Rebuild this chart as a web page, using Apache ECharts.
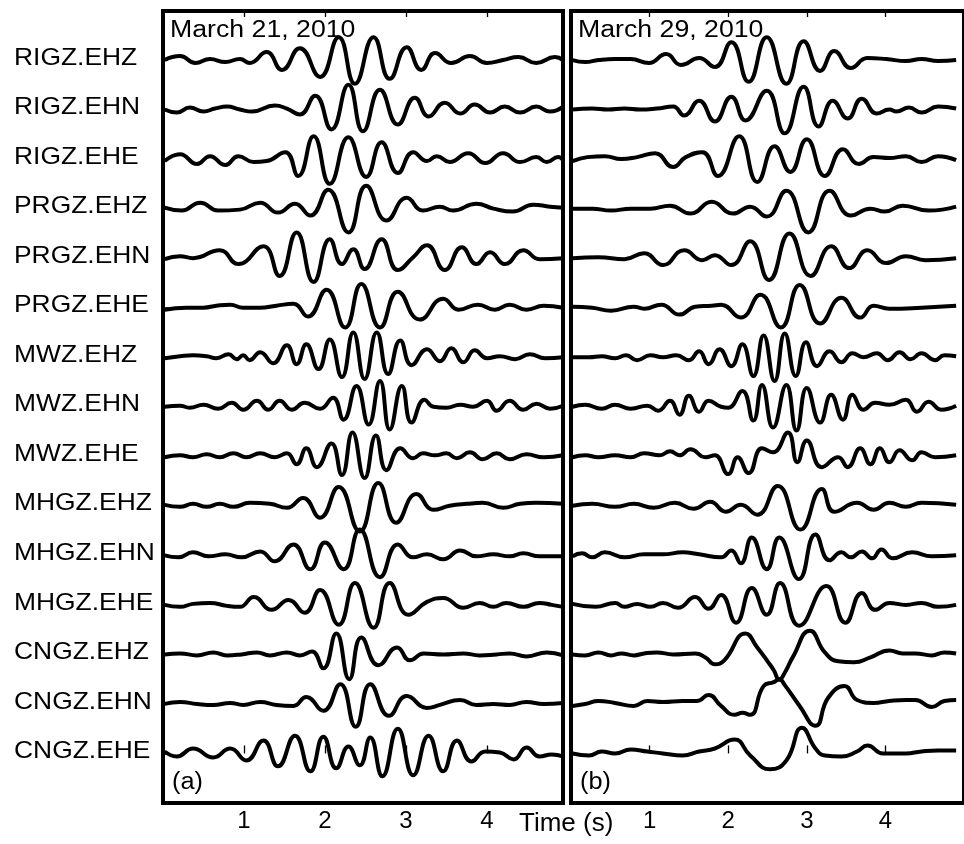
<!DOCTYPE html>
<html><head><meta charset="utf-8">
<script src="https://cdn.jsdelivr.net/npm/echarts@6/dist/echarts.min.js"></script>
<style>html,body{margin:0;padding:0;background:#fff}#c{width:964px;height:844px}</style>
</head><body><div id="c"></div>
<script>
const stations = ['RIGZ.EHZ','RIGZ.EHN','RIGZ.EHE','PRGZ.EHZ','PRGZ.EHN','PRGZ.EHE','MWZ.EHZ','MWZ.EHN','MWZ.EHE','MHGZ.EHZ','MHGZ.EHN','MHGZ.EHE','CNGZ.EHZ','CNGZ.EHN','CNGZ.EHE'];
const timeTicks = [1,2,3,4];
const panelTitles = ['March 21, 2010','March 29, 2010'];
const panelTags = ['(a)','(b)'];
const axisTitle = 'Time (s)';

// ---- March 21, 2010 : [time (s), amplitude] at read extrema ----
const m21_RIGZ_EHZ = [[0.02,0],[0.21,4],[0.40,-3],[0.58,1],[0.77,-2],[0.95,1],[1.07,-3],[1.28,8],[1.47,-10],[1.69,12],[1.94,-17],[2.17,23],[2.37,-24],[2.60,23],[2.80,-19],[3.01,13],[3.19,-10],[3.36,7],[3.56,-3],[3.79,4],[4.00,-3],[4.20,0],[4.39,3],[4.61,-3],[4.84,3],[4.94,0]];
const m21_RIGZ_EHN = [[0.02,0],[0.17,-3],[0.33,2],[0.50,-2],[0.64,1],[0.79,3],[0.95,0],[1.10,-2],[1.38,4],[1.53,1],[1.69,-5],[1.88,14],[2.08,-20],[2.29,25],[2.47,-22],[2.68,20],[2.90,-15],[3.11,12],[3.28,-7],[3.48,7],[3.67,-4],[3.85,5],[4.04,-3],[4.22,3],[4.41,-3],[4.61,3],[4.78,-2],[4.94,3]];
const m21_RIGZ_EHE = [[0.02,-2],[0.21,5],[0.42,-5],[0.58,3],[0.77,-6],[0.93,3],[1.12,-3],[1.28,-2],[1.51,7],[1.67,-17],[1.86,23],[2.06,-25],[2.29,22],[2.51,-18],[2.70,17],[2.90,-14],[3.09,7],[3.26,-2],[3.38,3],[3.54,-3],[3.77,6],[3.98,-4],[4.20,6],[4.41,-3],[4.61,2],[4.74,-3],[4.88,2],[4.94,-1]];
const m21_PRGZ_EHZ = [[0.02,1],[0.23,-2],[0.46,6],[0.68,-2],[0.95,-1],[1.20,6],[1.42,-4],[1.63,5],[1.82,-7],[2.04,19],[2.29,-24],[2.51,23],[2.76,-12],[3.01,11],[3.21,-2],[3.42,2],[3.58,-2],[3.87,5],[4.08,0],[4.32,-3],[4.57,4],[4.78,2],[4.94,1]];
const m21_PRGZ_EHN = [[0.02,-1],[0.21,2],[0.37,0],[0.70,8],[0.93,-6],[1.24,12],[1.44,-18],[1.65,26],[1.86,-24],[2.06,19],[2.21,-6],[2.35,9],[2.49,-11],[2.70,19],[2.90,-12],[3.09,1],[3.26,13],[3.48,-12],[3.69,11],[3.87,-6],[4.04,6],[4.22,-6],[4.45,8],[4.65,-1],[4.94,0]];
const m21_PRGZ_EHE = [[0.02,-2],[0.29,0],[0.50,0],[0.66,2],[0.83,3],[0.99,0],[1.20,0],[1.40,2],[1.61,4],[1.79,-9],[2.02,18],[2.25,-20],[2.45,24],[2.68,-20],[2.90,16],[3.17,-12],[3.46,9],[3.65,-2],[3.89,3],[4.10,-2],[4.28,3],[4.49,-2],[4.70,2],[4.94,0]];
const m21_MWZ_EHZ = [[0.02,-1],[0.21,1],[0.37,2],[0.54,1],[0.66,-1],[0.81,3],[0.91,-2],[0.99,2],[1.07,-3],[1.20,5],[1.36,-6],[1.53,12],[1.65,-7],[1.77,13],[1.92,-12],[2.06,18],[2.21,-20],[2.35,25],[2.49,-22],[2.64,25],[2.78,-17],[2.93,17],[3.07,-8],[3.26,8],[3.42,-4],[3.56,9],[3.71,-5],[3.85,7],[4.00,-1],[4.16,1],[4.35,-2],[4.53,3],[4.72,-1],[4.94,0]];
const m21_MWZ_EHN = [[0.02,0],[0.21,1],[0.33,-1],[0.50,2],[0.68,-2],[0.85,4],[0.99,-3],[1.16,6],[1.30,-3],[1.44,6],[1.59,-3],[1.75,4],[1.94,-2],[2.10,9],[2.23,-13],[2.39,21],[2.54,-18],[2.68,26],[2.80,-23],[2.95,21],[3.07,-16],[3.23,7],[3.34,0],[3.50,-1],[3.67,2],[3.83,0],[4.00,6],[4.12,-4],[4.28,6],[4.45,-3],[4.61,3],[4.78,-2],[4.94,1]];
const m21_MWZ_EHE = [[0.02,-1],[0.21,1],[0.37,-1],[0.54,2],[0.70,-1],[0.87,3],[1.03,-1],[1.20,3],[1.38,-1],[1.53,3],[1.65,-8],[1.77,8],[1.90,-11],[2.08,13],[2.21,-19],[2.34,24],[2.49,-22],[2.63,21],[2.76,-14],[2.93,8],[3.09,-2],[3.21,3],[3.36,1],[3.50,3],[3.63,-2],[3.79,4],[3.95,-3],[4.12,3],[4.28,-3],[4.49,2],[4.70,-1],[4.94,1]];
const m21_MHGZ_EHZ = [[0.02,1],[0.21,-1],[0.37,2],[0.54,-1],[0.70,2],[0.87,-1],[1.07,3],[1.32,2],[1.53,-2],[1.73,8],[1.94,-12],[2.17,19],[2.43,-26],[2.66,23],[2.88,-17],[3.13,12],[3.34,-4],[3.54,0],[3.75,2],[3.95,3],[4.20,-2],[4.41,2],[4.61,3],[4.94,2]];
const m21_MHGZ_EHN = [[0.02,0],[0.19,-2],[0.37,3],[0.56,-1],[0.77,1],[0.97,-2],[1.20,4],[1.38,-6],[1.61,11],[1.82,-14],[2.00,13],[2.23,-14],[2.43,26],[2.68,-22],[2.90,11],[3.09,-2],[3.26,1],[3.46,-4],[3.67,5],[3.87,-1],[4.08,1],[4.28,-1],[4.45,2],[4.65,-1],[4.94,-1]];
const m21_MHGZ_EHE = [[0.02,0],[0.21,-2],[0.37,1],[0.58,2],[0.79,-1],[0.95,-2],[1.12,8],[1.34,-5],[1.55,5],[1.75,-8],[1.94,15],[2.17,-20],[2.37,22],[2.60,-23],[2.80,22],[3.03,-10],[3.26,3],[3.46,7],[3.71,-3],[3.91,2],[4.08,-2],[4.24,2],[4.45,-2],[4.65,2],[4.80,0],[4.94,-2]];
const m21_CNGZ_EHZ = [[0.02,0],[0.21,1],[0.42,-1],[0.62,2],[0.79,-1],[0.97,0],[1.16,2],[1.32,-1],[1.53,2],[1.69,-1],[1.84,3],[1.98,-14],[2.14,21],[2.30,-25],[2.45,17],[2.66,-11],[2.89,7],[3.05,-6],[3.22,1],[3.46,0],[3.71,1],[3.91,-1],[4.12,0],[4.28,1],[4.49,-2],[4.74,2],[4.94,-1]];
const m21_CNGZ_EHN = [[0.02,0],[0.21,2],[0.42,0],[0.62,-1],[0.83,1],[0.99,-1],[1.20,2],[1.40,-1],[1.61,-2],[1.77,7],[1.98,-7],[2.19,20],[2.38,-23],[2.56,20],[2.79,-12],[3.01,8],[3.26,-4],[3.42,-1],[3.67,4],[3.87,-1],[4.08,0],[4.28,-1],[4.49,2],[4.70,0],[4.94,1]];
const m21_CNGZ_EHE = [[0.02,2],[0.17,-3],[0.37,5],[0.62,-4],[0.83,5],[1.03,-7],[1.24,13],[1.42,-13],[1.63,18],[1.82,-18],[1.98,17],[2.14,-15],[2.29,7],[2.43,-12],[2.56,16],[2.71,-23],[2.90,25],[3.09,-22],[3.28,18],[3.46,-18],[3.63,13],[3.81,-8],[3.98,2],[4.16,1],[4.33,-6],[4.49,6],[4.65,-3],[4.80,-1],[4.94,-3]];

// ---- March 29, 2010 ----
const m29_RIGZ_EHZ = [[0.02,0],[0.18,-2],[0.35,0],[0.56,1],[0.76,1],[0.99,-3],[1.21,6],[1.40,-5],[1.63,2],[1.83,-7],[2.04,18],[2.26,-22],[2.49,23],[2.74,-24],[2.96,19],[3.17,-11],[3.35,9],[3.56,-8],[3.77,2],[4.01,1],[4.26,-1],[4.46,1],[4.67,-1],[4.90,0]];
const m29_RIGZ_EHN = [[0.02,0],[0.27,1],[0.47,0],[0.68,1],[0.88,0],[1.09,1],[1.30,3],[1.44,-6],[1.63,9],[1.83,-12],[2.04,13],[2.22,-11],[2.49,19],[2.72,-24],[2.96,23],[3.15,-17],[3.33,9],[3.52,-9],[3.70,11],[3.89,-4],[4.05,0],[4.14,-2],[4.30,2],[4.46,-3],[4.67,3],[4.90,1]];
const m29_RIGZ_EHE = [[0.02,-2],[0.21,2],[0.43,3],[0.64,0],[0.84,2],[1.07,6],[1.30,-8],[1.46,2],[1.67,7],[1.87,-17],[2.14,23],[2.37,-23],[2.59,13],[2.79,-13],[3.00,20],[3.23,-17],[3.46,10],[3.66,-5],[3.85,2],[4.05,1],[4.26,3],[4.46,-3],[4.67,3],[4.90,-1]];
const m29_PRGZ_EHZ = [[0.02,0],[0.27,0],[0.51,-2],[0.76,0],[1.01,0],[1.26,3],[1.52,-5],[1.79,7],[2.06,-5],[2.28,2],[2.49,-8],[2.74,18],[3.02,-24],[3.29,18],[3.56,-7],[3.81,0],[3.99,-3],[4.22,3],[4.55,-2],[4.90,2]];
const m29_PRGZ_EHN = [[0.02,0],[0.35,1],[0.68,-1],[0.93,5],[1.17,-7],[1.44,8],[1.67,-2],[1.83,3],[2.04,-7],[2.28,17],[2.52,-22],[2.78,25],[3.05,-18],[3.31,12],[3.54,-10],[3.77,8],[4.01,-5],[4.26,2],[4.51,-2],[4.90,0]];
const m29_PRGZ_EHE = [[0.02,1],[0.27,0],[0.51,-3],[0.80,1],[0.93,-1],[1.15,3],[1.38,-7],[1.58,1],[1.79,2],[1.91,3],[2.16,-10],[2.41,13],[2.67,-20],[2.91,23],[3.17,-16],[3.44,10],[3.68,-10],[3.85,2],[4.05,-1],[4.46,0],[4.90,2]];
const m29_MWZ_EHZ = [[0.02,0],[0.23,0],[0.39,1],[0.56,-1],[0.70,2],[0.84,-3],[1.01,2],[1.17,0],[1.34,2],[1.50,-3],[1.63,6],[1.75,-7],[1.89,8],[2.04,-9],[2.18,13],[2.32,-19],[2.45,22],[2.59,-24],[2.72,24],[2.86,-19],[2.99,15],[3.13,-9],[3.29,6],[3.44,-5],[3.58,4],[3.72,0],[3.89,4],[4.03,-3],[4.18,5],[4.32,-2],[4.46,4],[4.63,-3],[4.75,2],[4.90,1]];
const m29_MWZ_EHN = [[0.02,0],[0.18,2],[0.39,-2],[0.56,2],[0.76,-2],[0.97,1],[1.11,-4],[1.26,6],[1.38,-8],[1.50,11],[1.63,-5],[1.75,6],[1.91,0],[2.00,-1],[2.18,16],[2.32,-14],[2.43,22],[2.57,-21],[2.74,22],[2.87,-24],[3.00,19],[3.17,-16],[3.31,12],[3.46,-13],[3.58,12],[3.72,-3],[3.87,4],[4.05,2],[4.26,7],[4.40,-5],[4.55,5],[4.71,-3],[4.90,1]];
const m29_MWZ_EHE = [[0.02,-1],[0.18,1],[0.35,-1],[0.56,1],[0.76,-1],[0.93,3],[1.13,1],[1.26,5],[1.38,1],[1.52,7],[1.71,-1],[1.83,1],[2.00,-18],[2.12,-1],[2.26,-17],[2.43,8],[2.57,4],[2.76,24],[2.88,-6],[3.00,16],[3.19,-11],[3.40,-1],[3.52,-11],[3.68,8],[3.81,-8],[3.93,8],[4.05,-6],[4.18,6],[4.34,-4],[4.46,4],[4.63,-1],[4.90,1]];
const m29_MHGZ_EHZ = [[0.02,0],[0.27,2],[0.56,-1],[0.80,2],[1.05,-2],[1.32,3],[1.56,-3],[1.77,4],[1.97,-6],[2.16,1],[2.37,-9],[2.63,20],[2.92,-24],[3.19,17],[3.35,-6],[3.64,3],[3.85,-4],[4.05,3],[4.26,-1],[4.46,3],[4.90,1]];
const m29_MHGZ_EHN = [[0.02,-1],[0.14,2],[0.27,-2],[0.43,3],[0.68,-2],[0.93,1],[1.17,1],[1.42,3],[1.63,1],[1.91,-2],[2.04,5],[2.16,-8],[2.30,18],[2.49,-14],[2.65,18],[2.90,-24],[3.11,21],[3.29,-5],[3.44,3],[3.56,-2],[3.70,4],[3.83,-3],[3.95,6],[4.09,-3],[4.34,3],[4.59,-1],[4.90,0]];
const m29_MHGZ_EHE = [[0.02,1],[0.31,-2],[0.56,2],[0.68,-2],[0.84,1],[1.01,-2],[1.17,2],[1.36,-3],[1.58,8],[1.75,-4],[1.91,10],[2.10,-18],[2.30,17],[2.49,-10],[2.66,22],[2.90,-21],[3.25,19],[3.49,-18],[3.70,12],[3.87,-5],[4.05,2],[4.26,0],[4.46,2],[4.67,-2],[4.90,0]];
const m29_CNGZ_EHZ = [[0.02,0],[0.18,-1],[0.35,2],[0.51,-1],[0.64,1],[0.80,-1],[0.93,1],[1.09,2],[1.30,0],[1.58,1],[1.71,-3],[1.83,-10],[1.95,-6],[2.22,21],[2.37,7],[2.51,-8],[2.58,-16],[2.65,-25.5],[2.73,-17],[2.82,-3],[3.04,24],[3.23,2],[3.40,-7],[3.60,-8],[3.81,-3],[4.05,4],[4.22,1],[4.38,1],[4.59,-1],[4.75,2],[4.90,1]];
const m29_CNGZ_EHN = [[0.02,-2],[0.18,0],[0.35,3],[0.56,1],[0.80,-2],[0.97,3],[1.17,2],[1.42,3],[1.60,3],[1.75,9],[1.91,-2],[2.08,-11],[2.18,-9],[2.28,-11],[2.45,18],[2.58,22],[2.65,25],[2.72,19],[2.90,-1],[3.11,-22],[3.27,6],[3.48,18],[3.64,4],[3.85,1],[4.05,3],[4.26,4],[4.38,4],[4.59,-3],[4.75,3],[4.90,4]];
const m29_CNGZ_EHE = [[0.02,0],[0.23,-2],[0.39,2],[0.56,0],[0.76,4],[0.97,2],[1.17,0],[1.42,-2],[1.63,2],[1.83,5],[2.08,14],[2.28,-2],[2.53,-16],[2.74,-7],[2.94,26],[3.11,5],[3.23,-2],[3.44,-3],[3.64,2],[3.77,8],[3.97,0],[4.26,0],[4.46,2],[4.67,3],[4.90,3]];

const march21 = [m21_RIGZ_EHZ,m21_RIGZ_EHN,m21_RIGZ_EHE,m21_PRGZ_EHZ,m21_PRGZ_EHN,m21_PRGZ_EHE,m21_MWZ_EHZ,m21_MWZ_EHN,m21_MWZ_EHE,m21_MHGZ_EHZ,m21_MHGZ_EHN,m21_MHGZ_EHE,m21_CNGZ_EHZ,m21_CNGZ_EHN,m21_CNGZ_EHE];
const march29 = [m29_RIGZ_EHZ,m29_RIGZ_EHN,m29_RIGZ_EHE,m29_PRGZ_EHZ,m29_PRGZ_EHN,m29_PRGZ_EHE,m29_MWZ_EHZ,m29_MWZ_EHN,m29_MWZ_EHE,m29_MHGZ_EHZ,m29_MHGZ_EHN,m29_MHGZ_EHE,m29_CNGZ_EHZ,m29_CNGZ_EHN,m29_CNGZ_EHE];

// ---- layout ----
const SPACING = 50;
const baseline = i => (stations.length - 1 - i) * SPACING;
const baselines = stations.map((s, i) => baseline(i));
const FONT = "'Liberation Sans', Arial, Helvetica, sans-serif";
const chart = echarts.init(document.getElementById('c'), null, {renderer: 'canvas'});

const grids = [
  {left: 163, top: 11, width: 400, height: 792, show: true, borderColor: '#000', borderWidth: 4, backgroundColor: 'transparent'},
  {left: 571, top: 11, width: 405, height: 792, show: true, borderColor: '#000', borderWidth: 4, backgroundColor: 'transparent'}
];
const xMax = [4.94, 5];
const xAxes = [];
const yAxes = [];
grids.forEach((g, gi) => {
  xAxes.push({type: 'value', gridIndex: gi, position: 'bottom', min: 0, max: xMax[gi],
    axisLine: {show: false}, splitLine: {show: false},
    axisTick: {show: true, inside: true, length: 8, customValues: timeTicks, lineStyle: {color: '#000', width: 1.3}},
    axisLabel: {show: true, customValues: timeTicks, margin: 6, color: '#000', fontSize: 24, fontFamily: FONT}});
  xAxes.push({type: 'value', gridIndex: gi, position: 'top', min: 0, max: xMax[gi],
    axisLine: {show: false}, splitLine: {show: false},
    axisTick: {show: true, inside: true, length: 6, customValues: timeTicks, lineStyle: {color: '#000', width: 1.3}},
    axisLabel: {show: false}});
  yAxes.push({type: 'value', gridIndex: gi, min: -50, max: 749.5,
    axisLine: {show: false}, splitLine: {show: false}, axisLabel: {show: false},
    axisTick: {show: gi === 0, inside: true, length: 5, customValues: baselines, lineStyle: {color: '#000', width: 1.5}}});
});

const series = [];
[march21, march29].forEach((panel, pi) => {
  panel.forEach((trace, i) => {
    series.push({type: 'line', xAxisIndex: pi * 2, yAxisIndex: pi, name: stations[i] + '_' + pi,
      data: trace.map(([t, a]) => [t, baseline(i) + a]),
      smooth: 0.5, symbol: 'none', silent: true,
      lineStyle: {color: '#000', width: 4}});
  });
});

chart.setOption({animation: false, backgroundColor: '#fff', grid: grids, xAxis: xAxes, yAxis: yAxes, series});

const txt = (text, x, y, size, sx) => ({type: 'text', x, y, scaleX: sx, z: 100,
  style: {text, fontSize: size, fontFamily: FONT, fill: '#000', align: 'left', verticalAlign: 'middle', textAlign: 'left', textVerticalAlign: 'middle'}});

const graphics = [];
stations.forEach((s, i) => {
  const py = chart.convertToPixel({yAxisIndex: 0}, baseline(i));
  graphics.push(txt(s, 14, py - 2, 24, 1.1));
});
const panelLeft = [0, 1].map(gi => chart.convertToPixel({xAxisIndex: gi * 2}, 0));
panelTitles.forEach((t, gi) => graphics.push(txt(t, panelLeft[gi] + 7, 31, 23, 1.16)));
panelTags.forEach((t, gi) => graphics.push(txt(t, panelLeft[gi] + 9, 783, 23, 1.1)));
graphics.push(txt(axisTitle, 519, 824, 26, 1.0));
chart.setOption({graphic: graphics});
</script></body></html>
